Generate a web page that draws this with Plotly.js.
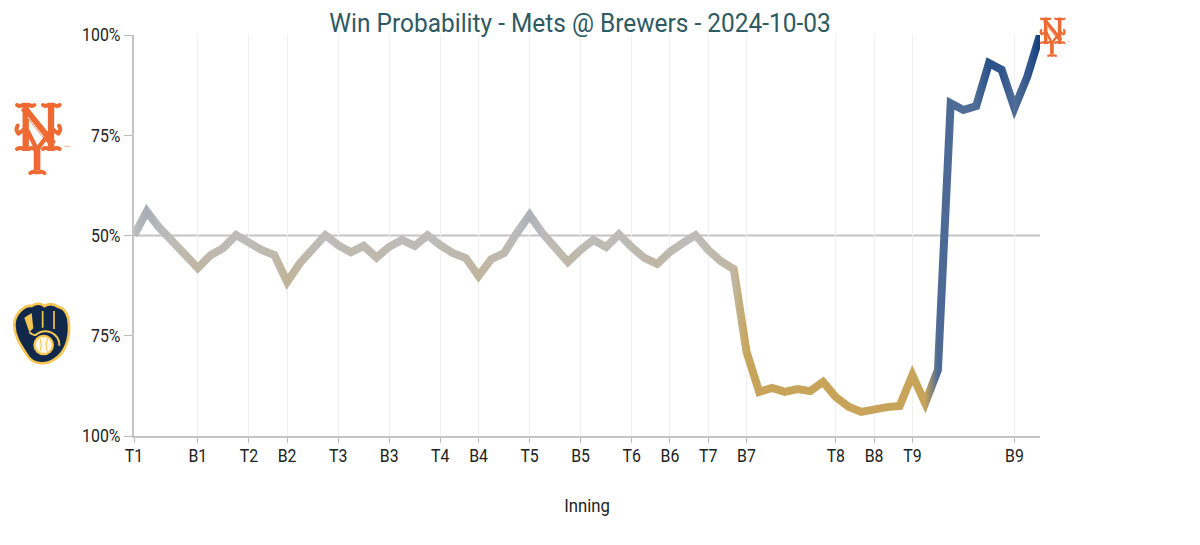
<!DOCTYPE html>
<html><head><meta charset="utf-8">
<script src="https://cdn.plot.ly/plotly-3.0.0.min.js"></script>
<style>html,body{margin:0;padding:0;background:#fff}</style>
</head><body><div id="chart" style="width:1200px;height:545px"></div>
<script>
const chartTitle = "Win Probability - Mets @ Brewers - 2024-10-03";
const inningTickIndex = [0,5,9,12,16,20,24,27,31,35,39,42,45,48,55,58,61,69];
const inningTickText = ["T1","B1","T2","B2","T3","B3","T4","B4","T5","B5","T6","B6","T7","B7","T8","B8","T9","B9"];
const yTickVals = [0,25,50,75,100];
const yTickText = ["100%","75%","50%","75%","100%"];
const metsWinProb = [50,56,51.9,48.4,45.1,41.9,45.1,46.9,50.1,48.1,46.4,45.1,38.4,43.1,46.6,50.1,47.6,45.8,47.4,44.5,47.2,48.9,47.4,50.1,47.6,45.6,44.4,39.9,44.1,45.6,50.6,55.1,50.6,46.9,43.4,46.4,48.9,47.1,50.3,47.1,44.4,42.9,45.9,48.1,50.1,46.4,43.6,41.6,21,11,12,11,11.7,11.2,13.5,9.7,7.3,6,6.7,7.2,7.5,15.2,8.2,16.5,83,81.3,82.3,93,91.3,81.8,89.6,100];
const playIndex = metsWinProb.map((_, i) => i);

const metsLogo = (c) => `<svg xmlns="http://www.w3.org/2000/svg" viewBox="20 15 180 225"><g fill="none" stroke="${c}" stroke-linejoin="round" stroke-linecap="butt"><path d="M62 32V158M138 32V158" stroke-width="19"/><path d="M56 38L144 148" stroke-width="22"/><path d="M68 66L118 128" stroke="#fff" stroke-width="3"/><path d="M96 158V226" stroke-width="20"/><path d="M66 104L96 164L142 100" stroke-width="13"/><g stroke-width="12" stroke-linecap="round"><path d="M36 30Q46 36 54 29H72Q80 36 88 30"/><path d="M114 30Q122 36 130 29H146Q154 36 164 30"/><path d="M36 162Q46 156 54 162H72Q80 156 88 162"/><path d="M114 162Q122 156 130 162H146Q154 156 164 162"/><path d="M76 234Q84 228 90 232H104Q110 228 118 234"/><path d="M38 92Q30 104 40 116L62 100"/><path d="M162 92Q170 104 160 116L138 100"/></g></g><path d="M178 152h16v3h-16z" fill="${c}" opacity=".6"/></svg>`;
const brewersLogo = `<svg xmlns="http://www.w3.org/2000/svg" viewBox="0 0 210 225"><path d="M28 90C28 55 60 30 80 33C95 23 110 26 118 33C135 23 150 28 160 36C182 40 192 65 192 90C194 130 182 172 150 192C125 210 90 210 70 186C55 160 28 130 28 90Z" fill="#12284b" stroke="#f5c651" stroke-width="8"/><path d="M58 68L80 54L85 100L73 112Z" fill="#f5c651"/><g stroke="#f5c651" fill="none"><path d="M113 48V98M147 48V102" stroke-width="5"/><path d="M73 112Q84 122 92 120Q112 102 138 112Q164 124 163 152" stroke-width="6"/></g><circle cx="116" cy="150" r="31" fill="#f5c651"/><circle cx="116" cy="150" r="24" fill="#fdf8ea"/><path d="M105 130Q113 150 105 170M127 130Q119 150 127 170" fill="none" stroke="#f5c651" stroke-width="3"/></svg>`;
const uri = (s) => "data:image/svg+xml;base64," + btoa(s);
const W = 906, H = 401;
const img = (src, px, py, w, h) => ({source: uri(src), xref:"paper", yref:"paper", x:(px-134)/W, y:(436-py)/H, sizex:w/W, sizey:h/H, xanchor:"left", yanchor:"top", sizing:"stretch", layer:"above"});

const trace = {x: playIndex, y: metsWinProb, mode:"lines", type:"scatter", cliponaxis:false, hoverinfo:"skip",
  line:{color:"#bdbdbd", width:8, shape:"linear"}, showlegend:false};

const layout = {
  width:1200, height:545, autosize:false, showlegend:false,
  paper_bgcolor:"#fff", plot_bgcolor:"#fff",
  margin:{l:134, r:160, t:35, b:109, pad:0},
  font:{family:'Roboto,sans-serif', color:"#222", size:18},
  title:{text:chartTitle, x:0.4923, xref:"paper", xanchor:"center", y:0.958, yanchor:"middle", font:{size:26, color:"#2f5a63", family:'Roboto,sans-serif'}},
  xaxis:{range:[0,71], tickmode:"array", tickvals:inningTickIndex, ticktext:inningTickText, ticks:"outside", ticklen:5, tickwidth:1, tickcolor:"#bbb", showline:true, linecolor:"#c4c4c4", linewidth:2, showgrid:true, gridcolor:"#f0f0f0", gridwidth:1, zeroline:false, tickangle:0, fixedrange:true, ticklabelstandoff:-3, title:{text:"Inning", standoff:34, font:{size:19}}},
  yaxis:{range:[0,100], tickmode:"array", tickvals:yTickVals, ticktext:yTickText, ticks:"outside", ticklen:8, tickwidth:1, tickcolor:"#bbb", showline:true, linecolor:"#c4c4c4", linewidth:2, showgrid:false, zeroline:false, fixedrange:true},
  shapes:[{type:"line", xref:"paper", x0:0, x1:1, yref:"y", y0:50, y1:50, line:{color:"#c4c4c4", width:2}, layer:"below"}],
  images:[img(metsLogo("#ee6a32"), 11.7, 100, 60, 75), img(brewersLogo, 5, 295, 70, 75), img(metsLogo("#ee6a32"), 1038, 16, 33, 41)]
};

const GRAY=[189,189,189], BLUE=[18,63,128], GOLD=[199,164,90];
const mix=(a,b,t)=>a.map((v,i)=>Math.round(v+(b[i]-v)*t));
function shade(v){
  if(v>=50) return mix(GRAY,BLUE,(v-50)/50);
  return mix(GRAY,GOLD,Math.min(1,(50-v)/30));
}
const rallyStart = 63, rallyShadeValue = 83;
const condenseText = 0.88, condenseTitle = 0.94;

Plotly.newPlot("chart",[trace],layout,{displayModeBar:false,staticPlot:true}).then(gd=>{
  const xa=gd._fullLayout.xaxis;
  const svg=gd.querySelector(".main-svg");
  const NS="http://www.w3.org/2000/svg";
  const defs=document.createElementNS(NS,"defs");
  const g=document.createElementNS(NS,"linearGradient");
  g.setAttribute("id","wpGrad");g.setAttribute("gradientUnits","userSpaceOnUse");
  g.setAttribute("x1",xa.l2p(0));g.setAttribute("x2",xa.l2p(71));g.setAttribute("y1",0);g.setAttribute("y2",0);
  metsWinProb.forEach((v,i)=>{
    const s=document.createElementNS(NS,"stop");
    s.setAttribute("offset",i/71);
    const c=shade(i===rallyStart?rallyShadeValue:v);
    s.setAttribute("stop-color",`rgb(${c.join(",")})`);
    g.appendChild(s);
  });
  defs.appendChild(g);svg.appendChild(defs);
  gd.querySelectorAll(".scatterlayer .js-line").forEach(p=>{
    p.style.stroke="url(#wpGrad)";p.style.strokeLinejoin="miter";p.style.strokeLinecap="butt";p.style.strokeMiterlimit="6";
  });
  gd.querySelectorAll("text").forEach(t=>{
    const len=t.getComputedTextLength();
    const k=t.textContent===chartTitle?condenseTitle:condenseText;
    if(len>0){t.setAttribute("textLength",(len*k).toFixed(1));t.setAttribute("lengthAdjust","spacingAndGlyphs");}
  });
});
</script></body></html>
